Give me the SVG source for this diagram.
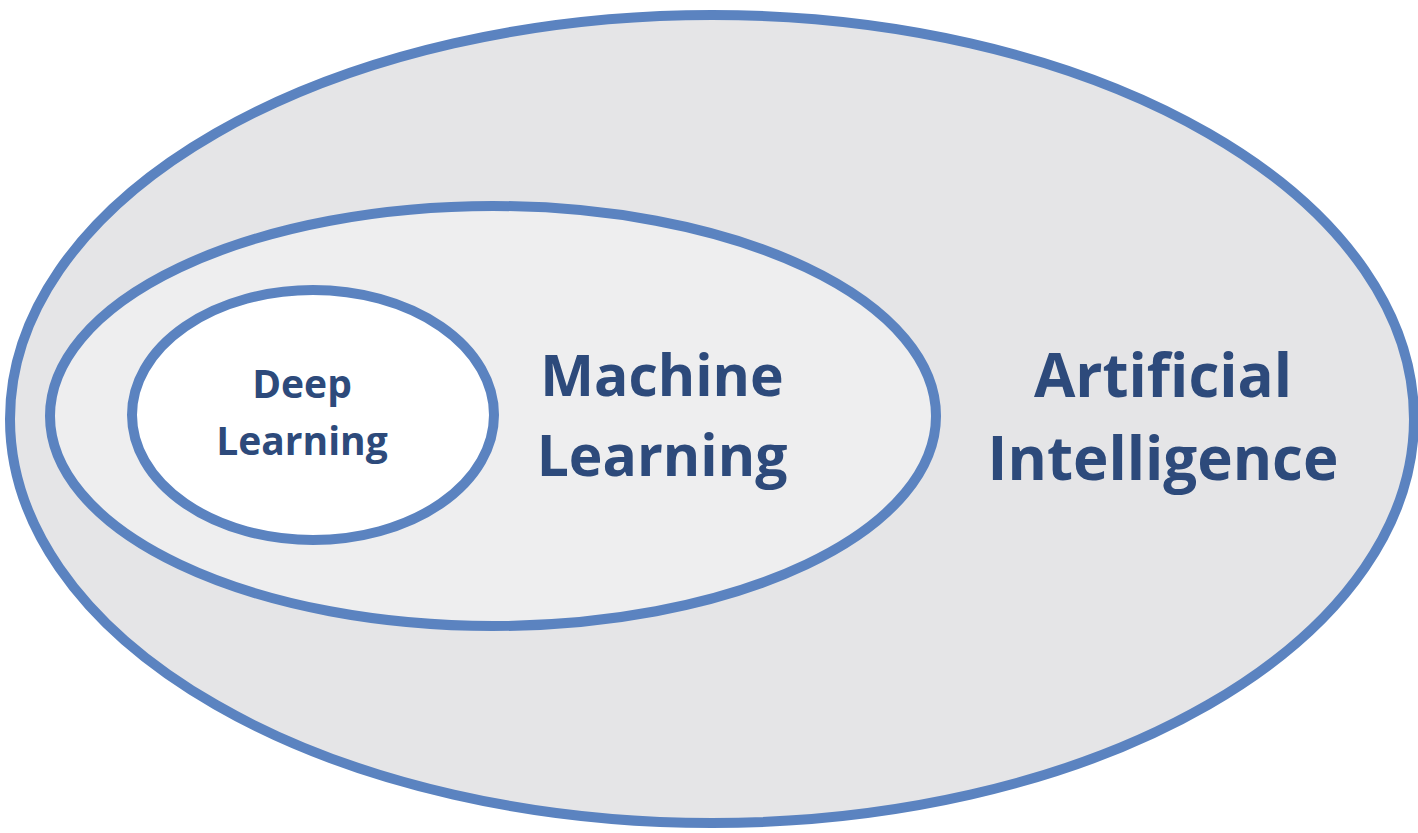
<svg xmlns="http://www.w3.org/2000/svg" width="1418" height="833" viewBox="0 0 1418 833">
<style>
.ring{stroke:#5b83c0;stroke-width:10}
.lbl{font-family:"Open Sans","Noto Sans","Liberation Sans",sans-serif;font-weight:700;fill:#2d4a7b;text-anchor:middle}
</style>
<rect width="1418" height="833" fill="#ffffff"/>
<g id="ai">
<ellipse class="ring" cx="712" cy="419" rx="702" ry="404" fill="#e5e5e7"/>
<text class="lbl" font-size="60" x="1163" y="397">Artificial</text>
<text class="lbl" font-size="60" x="1163" y="480">Intelligence</text>
</g>
<g id="ml">
<ellipse class="ring" cx="493" cy="416" rx="443" ry="210" fill="#eeeeef"/>
<text class="lbl" font-size="57" x="662" y="396">Machine</text>
<text class="lbl" font-size="57" x="662" y="476">Learning</text>
</g>
<g id="dl">
<ellipse class="ring" cx="313" cy="415" rx="181" ry="125" fill="#ffffff"/>
<text class="lbl" font-size="39" x="302" y="398">Deep</text>
<text class="lbl" font-size="39" x="302" y="455">Learning</text>
</g>
<g id="connectors"/>
</svg>
